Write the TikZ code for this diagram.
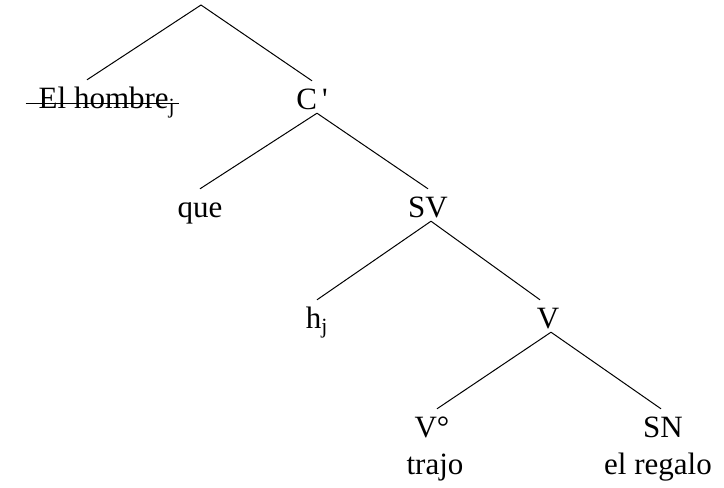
\documentclass[tikz,border=0pt]{standalone}
\usepackage{fontspec}
\setmainfont{Liberation Serif}
\begin{document}
\begin{tikzpicture}[x=1pt,y=-1pt,
    cat/.style={anchor=base,inner sep=0pt,text height=28pt,text depth=4pt,
      font=\fontsize{31}{37}\selectfont},
    branch/.style={line width=1pt}]
    \useasboundingbox (0,0) rectangle (724,488);

    % top of the tree
    \coordinate (root) at (201,5);
    \node[cat] (hombre) at (107,108) {El hombre\textsubscript{j}};
    \node[cat] (cbar) at (312,109) {C\,\textquotesingle};
    \draw[branch] (root) -- ([xshift=-20pt]hombre.north);
    \draw[branch] (root) -- (cbar.north);

    % struck out
    \draw[branch] ([shift={(-13pt,5pt)}]hombre.base west) -- ([shift={(4pt,5pt)}]hombre.base east);

    % C'
    \node[cat] (que) at (200,217) {que};
    \node[cat] (sv) at (428,217) {SV};
    \draw[branch] ([xshift=5pt]cbar.south) -- (que.north);
    \draw[branch] ([xshift=5pt]cbar.south) -- (sv.north);

    % SV
    \node[cat] (hj) at (317,328) {h\textsubscript{j}};
    \node[cat] (v) at (548,328) {V};
    \draw[branch] ([xshift=3pt]sv.south) -- (hj.north);
    \draw[branch] ([xshift=3pt]sv.south) -- ([xshift=-8pt]v.north);

    % V
    \node[cat] (vcero) at (432,437) {V°};
    \node[cat] (sn) at (663,437) {SN};
    \draw[branch] ([xshift=3pt]v.south) -- ([xshift=5pt]vcero.north);
    \draw[branch] ([xshift=3pt]v.south) -- ([xshift=-2pt]sn.north);

    % words
    \node[cat] (trajo) at (435,474) {trajo};
    \node[cat] (regalo) at (658,474) {el regalo};
\end{tikzpicture}
\end{document}
